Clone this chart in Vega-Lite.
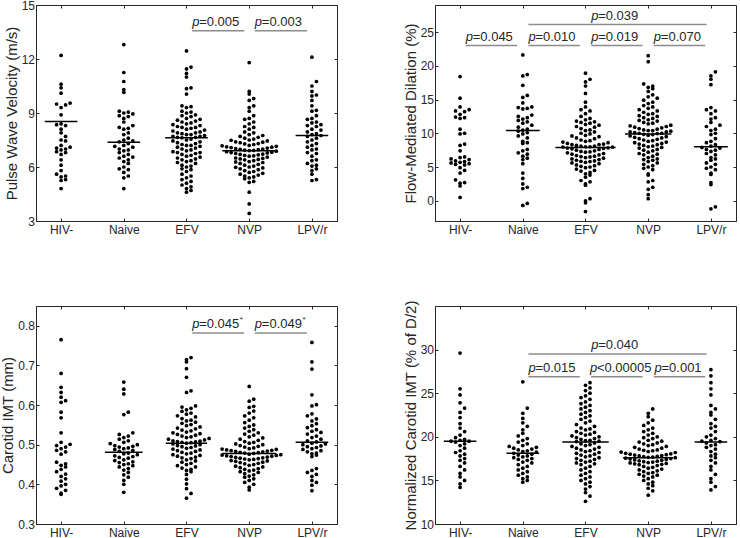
{
"$schema": "https://vega.github.io/schema/vega-lite/v6.json",
"padding": {"left": 0, "top": -2, "right": 0, "bottom": 0},
"bounds": "flush",
"columns": 2,
"spacing": {"row": 85, "column": 98},
"datasets": {
"pwv": [
{"g":"HIV-","v":12.2},{"g":"HIV-","v":10.6},{"g":"HIV-","v":10.4},{"g":"HIV-","v":10.1},{"g":"HIV-","v":9.55},{"g":"HIV-","v":9.5},{"g":"HIV-","v":9.45},{"g":"HIV-","v":9.3},{"g":"HIV-","v":8.9},{"g":"HIV-","v":8.4},{"g":"HIV-","v":8.35},{"g":"HIV-","v":8.3},{"g":"HIV-","v":8.1},{"g":"HIV-","v":7.9},{"g":"HIV-","v":7.7},{"g":"HIV-","v":7.5},{"g":"HIV-","v":7.45},{"g":"HIV-","v":7.2},{"g":"HIV-","v":7.1},{"g":"HIV-","v":7.05},{"g":"HIV-","v":7.0},{"g":"HIV-","v":6.95},{"g":"HIV-","v":6.85},{"g":"HIV-","v":6.8},{"g":"HIV-","v":6.7},{"g":"HIV-","v":6.4},{"g":"HIV-","v":6.1},{"g":"HIV-","v":5.8},{"g":"HIV-","v":5.6},{"g":"HIV-","v":5.5},{"g":"HIV-","v":5.45},{"g":"HIV-","v":5.3},{"g":"HIV-","v":5.25},{"g":"HIV-","v":4.8},
{"g":"Naive","v":12.8},{"g":"Naive","v":11.25},{"g":"Naive","v":10.75},{"g":"Naive","v":10.3},{"g":"Naive","v":10.15},{"g":"Naive","v":9.1},{"g":"Naive","v":9.05},{"g":"Naive","v":9.0},{"g":"Naive","v":8.95},{"g":"Naive","v":8.85},{"g":"Naive","v":8.8},{"g":"Naive","v":8.7},{"g":"Naive","v":8.5},{"g":"Naive","v":8.3},{"g":"Naive","v":8.2},{"g":"Naive","v":8.15},{"g":"Naive","v":8.1},{"g":"Naive","v":7.9},{"g":"Naive","v":7.8},{"g":"Naive","v":7.6},{"g":"Naive","v":7.5},{"g":"Naive","v":7.45},{"g":"Naive","v":7.4},{"g":"Naive","v":7.3},{"g":"Naive","v":7.2},{"g":"Naive","v":7.15},{"g":"Naive","v":7.1},{"g":"Naive","v":7.0},{"g":"Naive","v":6.95},{"g":"Naive","v":6.9},{"g":"Naive","v":6.8},{"g":"Naive","v":6.7},{"g":"Naive","v":6.6},{"g":"Naive","v":6.55},{"g":"Naive","v":6.5},{"g":"Naive","v":6.4},{"g":"Naive","v":6.3},{"g":"Naive","v":6.2},{"g":"Naive","v":6.0},{"g":"Naive","v":5.9},{"g":"Naive","v":5.85},{"g":"Naive","v":5.7},{"g":"Naive","v":5.5},{"g":"Naive","v":5.4},{"g":"Naive","v":4.8},
{"g":"EFV","v":12.45},{"g":"EFV","v":11.55},{"g":"EFV","v":11.45},{"g":"EFV","v":11.2},{"g":"EFV","v":11.0},{"g":"EFV","v":10.4},{"g":"EFV","v":10.35},{"g":"EFV","v":10.05},{"g":"EFV","v":9.4},{"g":"EFV","v":9.35},{"g":"EFV","v":9.3},{"g":"EFV","v":9.1},{"g":"EFV","v":9.05},{"g":"EFV","v":9.0},{"g":"EFV","v":8.9},{"g":"EFV","v":8.85},{"g":"EFV","v":8.8},{"g":"EFV","v":8.7},{"g":"EFV","v":8.65},{"g":"EFV","v":8.6},{"g":"EFV","v":8.55},{"g":"EFV","v":8.5},{"g":"EFV","v":8.45},{"g":"EFV","v":8.4},{"g":"EFV","v":8.35},{"g":"EFV","v":8.3},{"g":"EFV","v":8.25},{"g":"EFV","v":8.2},{"g":"EFV","v":8.2},{"g":"EFV","v":8.15},{"g":"EFV","v":8.1},{"g":"EFV","v":8.05},{"g":"EFV","v":8.0},{"g":"EFV","v":7.95},{"g":"EFV","v":7.9},{"g":"EFV","v":7.9},{"g":"EFV","v":7.85},{"g":"EFV","v":7.8},{"g":"EFV","v":7.8},{"g":"EFV","v":7.75},{"g":"EFV","v":7.7},{"g":"EFV","v":7.7},{"g":"EFV","v":7.65},{"g":"EFV","v":7.65},{"g":"EFV","v":7.62},
{"g":"EFV","v":7.55},{"g":"EFV","v":7.5},{"g":"EFV","v":7.45},{"g":"EFV","v":7.4},{"g":"EFV","v":7.35},{"g":"EFV","v":7.3},{"g":"EFV","v":7.25},{"g":"EFV","v":7.2},{"g":"EFV","v":7.2},{"g":"EFV","v":7.15},{"g":"EFV","v":7.1},{"g":"EFV","v":7.05},{"g":"EFV","v":7.0},{"g":"EFV","v":6.95},{"g":"EFV","v":6.9},{"g":"EFV","v":6.85},{"g":"EFV","v":6.8},{"g":"EFV","v":6.8},{"g":"EFV","v":6.75},{"g":"EFV","v":6.7},{"g":"EFV","v":6.65},{"g":"EFV","v":6.6},{"g":"EFV","v":6.55},{"g":"EFV","v":6.5},{"g":"EFV","v":6.45},{"g":"EFV","v":6.4},{"g":"EFV","v":6.35},{"g":"EFV","v":6.3},{"g":"EFV","v":6.25},{"g":"EFV","v":6.2},{"g":"EFV","v":6.1},{"g":"EFV","v":6.05},{"g":"EFV","v":6.0},{"g":"EFV","v":5.9},{"g":"EFV","v":5.85},{"g":"EFV","v":5.75},{"g":"EFV","v":5.6},{"g":"EFV","v":5.5},{"g":"EFV","v":5.4},{"g":"EFV","v":5.3},{"g":"EFV","v":5.2},{"g":"EFV","v":5.1},{"g":"EFV","v":5.0},{"g":"EFV","v":4.9},{"g":"EFV","v":4.8},{"g":"EFV","v":4.7},{"g":"EFV","v":4.6},
{"g":"NVP","v":11.8},{"g":"NVP","v":10.2},{"g":"NVP","v":10.05},{"g":"NVP","v":9.8},{"g":"NVP","v":9.7},{"g":"NVP","v":9.4},{"g":"NVP","v":9.3},{"g":"NVP","v":9.1},{"g":"NVP","v":8.85},{"g":"NVP","v":8.7},{"g":"NVP","v":8.65},{"g":"NVP","v":8.5},{"g":"NVP","v":8.4},{"g":"NVP","v":8.25},{"g":"NVP","v":8.2},{"g":"NVP","v":8.1},{"g":"NVP","v":7.95},{"g":"NVP","v":7.9},{"g":"NVP","v":7.8},{"g":"NVP","v":7.75},{"g":"NVP","v":7.7},{"g":"NVP","v":7.65},{"g":"NVP","v":7.6},{"g":"NVP","v":7.55},{"g":"NVP","v":7.5},{"g":"NVP","v":7.48},{"g":"NVP","v":7.45},{"g":"NVP","v":7.4},{"g":"NVP","v":7.38},{"g":"NVP","v":7.35},{"g":"NVP","v":7.3},{"g":"NVP","v":7.28},{"g":"NVP","v":7.25},{"g":"NVP","v":7.2},{"g":"NVP","v":7.18},{"g":"NVP","v":7.15},{"g":"NVP","v":7.12},{"g":"NVP","v":7.1},{"g":"NVP","v":7.08},{"g":"NVP","v":7.05},{"g":"NVP","v":7.02},{"g":"NVP","v":7.0},{"g":"NVP","v":6.98},{"g":"NVP","v":6.96},{"g":"NVP","v":6.94},{"g":"NVP","v":6.92},{"g":"NVP","v":6.91},
{"g":"NVP","v":6.88},{"g":"NVP","v":6.85},{"g":"NVP","v":6.82},{"g":"NVP","v":6.8},{"g":"NVP","v":6.78},{"g":"NVP","v":6.75},{"g":"NVP","v":6.72},{"g":"NVP","v":6.7},{"g":"NVP","v":6.68},{"g":"NVP","v":6.65},{"g":"NVP","v":6.62},{"g":"NVP","v":6.6},{"g":"NVP","v":6.55},{"g":"NVP","v":6.5},{"g":"NVP","v":6.48},{"g":"NVP","v":6.45},{"g":"NVP","v":6.42},{"g":"NVP","v":6.4},{"g":"NVP","v":6.35},{"g":"NVP","v":6.3},{"g":"NVP","v":6.28},{"g":"NVP","v":6.25},{"g":"NVP","v":6.2},{"g":"NVP","v":6.15},{"g":"NVP","v":6.1},{"g":"NVP","v":6.05},{"g":"NVP","v":6.0},{"g":"NVP","v":5.98},{"g":"NVP","v":5.95},{"g":"NVP","v":5.9},{"g":"NVP","v":5.85},{"g":"NVP","v":5.8},{"g":"NVP","v":5.75},{"g":"NVP","v":5.7},{"g":"NVP","v":5.65},{"g":"NVP","v":5.6},{"g":"NVP","v":5.55},{"g":"NVP","v":5.5},{"g":"NVP","v":5.45},{"g":"NVP","v":5.4},{"g":"NVP","v":5.35},{"g":"NVP","v":5.2},{"g":"NVP","v":5.15},{"g":"NVP","v":4.6},{"g":"NVP","v":3.95},{"g":"NVP","v":3.42},
{"g":"LPV/r","v":12.1},{"g":"LPV/r","v":10.75},{"g":"LPV/r","v":10.5},{"g":"LPV/r","v":10.2},{"g":"LPV/r","v":10.0},{"g":"LPV/r","v":9.95},{"g":"LPV/r","v":9.7},{"g":"LPV/r","v":9.4},{"g":"LPV/r","v":9.15},{"g":"LPV/r","v":9.1},{"g":"LPV/r","v":8.85},{"g":"LPV/r","v":8.7},{"g":"LPV/r","v":8.65},{"g":"LPV/r","v":8.5},{"g":"LPV/r","v":8.45},{"g":"LPV/r","v":8.35},{"g":"LPV/r","v":8.3},{"g":"LPV/r","v":8.25},{"g":"LPV/r","v":8.1},{"g":"LPV/r","v":8.05},{"g":"LPV/r","v":7.95},{"g":"LPV/r","v":7.85},{"g":"LPV/r","v":7.8},{"g":"LPV/r","v":7.75},{"g":"LPV/r","v":7.7},{"g":"LPV/r","v":7.6},{"g":"LPV/r","v":7.5},{"g":"LPV/r","v":7.4},{"g":"LPV/r","v":7.3},{"g":"LPV/r","v":7.2},{"g":"LPV/r","v":7.1},{"g":"LPV/r","v":7.0},{"g":"LPV/r","v":6.95},{"g":"LPV/r","v":6.8},{"g":"LPV/r","v":6.75},{"g":"LPV/r","v":6.6},{"g":"LPV/r","v":6.4},{"g":"LPV/r","v":6.35},{"g":"LPV/r","v":6.2},{"g":"LPV/r","v":6.1},{"g":"LPV/r","v":6.05},{"g":"LPV/r","v":5.9},{"g":"LPV/r","v":5.8},{"g":"LPV/r","v":5.6},{"g":"LPV/r","v":5.3},{"g":"LPV/r","v":5.25}
],
"fmd": [
{"g":"HIV-","v":18.4},{"g":"HIV-","v":15.2},{"g":"HIV-","v":13.9},{"g":"HIV-","v":13.5},{"g":"HIV-","v":13.3},{"g":"HIV-","v":13.2},{"g":"HIV-","v":12.8},{"g":"HIV-","v":12.4},{"g":"HIV-","v":12.3},{"g":"HIV-","v":12.2},{"g":"HIV-","v":10.6},{"g":"HIV-","v":10.0},{"g":"HIV-","v":9.9},{"g":"HIV-","v":8.4},{"g":"HIV-","v":8.2},{"g":"HIV-","v":7.4},{"g":"HIV-","v":6.5},{"g":"HIV-","v":6.4},{"g":"HIV-","v":6.2},{"g":"HIV-","v":6.1},{"g":"HIV-","v":5.9},{"g":"HIV-","v":5.8},{"g":"HIV-","v":5.7},{"g":"HIV-","v":5.6},{"g":"HIV-","v":5.5},{"g":"HIV-","v":5.4},{"g":"HIV-","v":5.3},{"g":"HIV-","v":4.9},{"g":"HIV-","v":4.5},{"g":"HIV-","v":4.1},{"g":"HIV-","v":3.1},{"g":"HIV-","v":2.7},{"g":"HIV-","v":2.6},{"g":"HIV-","v":2.2},{"g":"HIV-","v":0.5},
{"g":"Naive","v":21.6},{"g":"Naive","v":18.7},{"g":"Naive","v":18.5},{"g":"Naive","v":17.1},{"g":"Naive","v":15.6},{"g":"Naive","v":15.3},{"g":"Naive","v":14.5},{"g":"Naive","v":13.9},{"g":"Naive","v":13.8},{"g":"Naive","v":13.7},{"g":"Naive","v":13.6},{"g":"Naive","v":12.7},{"g":"Naive","v":12.5},{"g":"Naive","v":12.3},{"g":"Naive","v":12.1},{"g":"Naive","v":11.9},{"g":"Naive","v":11.7},{"g":"Naive","v":11.5},{"g":"Naive","v":11.2},{"g":"Naive","v":10.9},{"g":"Naive","v":10.6},{"g":"Naive","v":10.45},{"g":"Naive","v":10.3},{"g":"Naive","v":10.1},{"g":"Naive","v":9.9},{"g":"Naive","v":9.6},{"g":"Naive","v":9.3},{"g":"Naive","v":8.8},{"g":"Naive","v":8.6},{"g":"Naive","v":8.5},{"g":"Naive","v":7.6},{"g":"Naive","v":7.4},{"g":"Naive","v":7.1},{"g":"Naive","v":6.9},{"g":"Naive","v":6.6},{"g":"Naive","v":6.3},{"g":"Naive","v":6.1},{"g":"Naive","v":5.5},{"g":"Naive","v":4.1},{"g":"Naive","v":3.3},{"g":"Naive","v":2.5},{"g":"Naive","v":2.0},{"g":"Naive","v":1.8},{"g":"Naive","v":-0.4},{"g":"Naive","v":-0.7},
{"g":"EFV","v":18.9},{"g":"EFV","v":18.0},{"g":"EFV","v":17.6},{"g":"EFV","v":17.0},{"g":"EFV","v":15.9},{"g":"EFV","v":14.6},{"g":"EFV","v":13.9},{"g":"EFV","v":13.5},{"g":"EFV","v":13.3},{"g":"EFV","v":12.9},{"g":"EFV","v":12.5},{"g":"EFV","v":12.2},{"g":"EFV","v":12.0},{"g":"EFV","v":11.8},{"g":"EFV","v":11.7},{"g":"EFV","v":11.6},{"g":"EFV","v":11.5},{"g":"EFV","v":11.3},{"g":"EFV","v":11.2},{"g":"EFV","v":11.0},{"g":"EFV","v":10.9},{"g":"EFV","v":10.7},{"g":"EFV","v":10.5},{"g":"EFV","v":10.4},{"g":"EFV","v":10.2},{"g":"EFV","v":10.0},{"g":"EFV","v":9.9},{"g":"EFV","v":9.7},{"g":"EFV","v":9.6},{"g":"EFV","v":9.5},{"g":"EFV","v":9.3},{"g":"EFV","v":9.2},{"g":"EFV","v":9.0},{"g":"EFV","v":8.9},{"g":"EFV","v":8.8},{"g":"EFV","v":8.7},{"g":"EFV","v":8.6},{"g":"EFV","v":8.5},{"g":"EFV","v":8.4},{"g":"EFV","v":8.3},{"g":"EFV","v":8.3},{"g":"EFV","v":8.2},{"g":"EFV","v":8.1},{"g":"EFV","v":8.1},{"g":"EFV","v":8.0},{"g":"EFV","v":8.0},{"g":"EFV","v":7.95},{"g":"EFV","v":7.95},
{"g":"EFV","v":7.85},{"g":"EFV","v":7.8},{"g":"EFV","v":7.75},{"g":"EFV","v":7.7},{"g":"EFV","v":7.6},{"g":"EFV","v":7.5},{"g":"EFV","v":7.4},{"g":"EFV","v":7.3},{"g":"EFV","v":7.25},{"g":"EFV","v":7.2},{"g":"EFV","v":7.1},{"g":"EFV","v":7.0},{"g":"EFV","v":6.9},{"g":"EFV","v":6.8},{"g":"EFV","v":6.7},{"g":"EFV","v":6.6},{"g":"EFV","v":6.55},{"g":"EFV","v":6.5},{"g":"EFV","v":6.4},{"g":"EFV","v":6.3},{"g":"EFV","v":6.2},{"g":"EFV","v":6.1},{"g":"EFV","v":6.0},{"g":"EFV","v":5.9},{"g":"EFV","v":5.85},{"g":"EFV","v":5.8},{"g":"EFV","v":5.7},{"g":"EFV","v":5.6},{"g":"EFV","v":5.5},{"g":"EFV","v":5.3},{"g":"EFV","v":5.2},{"g":"EFV","v":5.1},{"g":"EFV","v":5.0},{"g":"EFV","v":4.9},{"g":"EFV","v":4.7},{"g":"EFV","v":4.5},{"g":"EFV","v":4.4},{"g":"EFV","v":4.2},{"g":"EFV","v":4.0},{"g":"EFV","v":3.8},{"g":"EFV","v":3.5},{"g":"EFV","v":3.0},{"g":"EFV","v":2.8},{"g":"EFV","v":2.5},{"g":"EFV","v":2.3},{"g":"EFV","v":0.3},{"g":"EFV","v":0.0},{"g":"EFV","v":-0.3},{"g":"EFV","v":-1.6},
{"g":"NVP","v":21.5},{"g":"NVP","v":20.6},{"g":"NVP","v":17.3},{"g":"NVP","v":17.0},{"g":"NVP","v":16.8},{"g":"NVP","v":16.6},{"g":"NVP","v":16.2},{"g":"NVP","v":15.7},{"g":"NVP","v":15.4},{"g":"NVP","v":15.2},{"g":"NVP","v":14.9},{"g":"NVP","v":14.6},{"g":"NVP","v":14.4},{"g":"NVP","v":14.1},{"g":"NVP","v":13.9},{"g":"NVP","v":13.7},{"g":"NVP","v":13.5},{"g":"NVP","v":13.3},{"g":"NVP","v":13.1},{"g":"NVP","v":12.9},{"g":"NVP","v":12.8},{"g":"NVP","v":12.6},{"g":"NVP","v":12.5},{"g":"NVP","v":12.3},{"g":"NVP","v":12.2},{"g":"NVP","v":12.0},{"g":"NVP","v":11.9},{"g":"NVP","v":11.8},{"g":"NVP","v":11.6},{"g":"NVP","v":11.5},{"g":"NVP","v":11.4},{"g":"NVP","v":11.2},{"g":"NVP","v":11.1},{"g":"NVP","v":11.0},{"g":"NVP","v":10.9},{"g":"NVP","v":10.8},{"g":"NVP","v":10.7},{"g":"NVP","v":10.6},{"g":"NVP","v":10.5},{"g":"NVP","v":10.4},{"g":"NVP","v":10.4},{"g":"NVP","v":10.3},{"g":"NVP","v":10.2},{"g":"NVP","v":10.2},{"g":"NVP","v":10.1},{"g":"NVP","v":10.0},{"g":"NVP","v":10.0},{"g":"NVP","v":9.95},
{"g":"NVP","v":9.85},{"g":"NVP","v":9.8},{"g":"NVP","v":9.7},{"g":"NVP","v":9.6},{"g":"NVP","v":9.5},{"g":"NVP","v":9.4},{"g":"NVP","v":9.3},{"g":"NVP","v":9.2},{"g":"NVP","v":9.1},{"g":"NVP","v":9.0},{"g":"NVP","v":8.9},{"g":"NVP","v":8.8},{"g":"NVP","v":8.7},{"g":"NVP","v":8.6},{"g":"NVP","v":8.5},{"g":"NVP","v":8.4},{"g":"NVP","v":8.3},{"g":"NVP","v":8.2},{"g":"NVP","v":8.1},{"g":"NVP","v":8.0},{"g":"NVP","v":7.9},{"g":"NVP","v":7.8},{"g":"NVP","v":7.6},{"g":"NVP","v":7.5},{"g":"NVP","v":7.4},{"g":"NVP","v":7.2},{"g":"NVP","v":7.0},{"g":"NVP","v":6.9},{"g":"NVP","v":6.8},{"g":"NVP","v":6.6},{"g":"NVP","v":6.4},{"g":"NVP","v":6.2},{"g":"NVP","v":6.1},{"g":"NVP","v":6.0},{"g":"NVP","v":5.8},{"g":"NVP","v":5.6},{"g":"NVP","v":5.4},{"g":"NVP","v":5.2},{"g":"NVP","v":5.0},{"g":"NVP","v":4.8},{"g":"NVP","v":4.6},{"g":"NVP","v":4.0},{"g":"NVP","v":3.8},{"g":"NVP","v":3.0},{"g":"NVP","v":2.8},{"g":"NVP","v":2.0},{"g":"NVP","v":1.7},{"g":"NVP","v":0.9},{"g":"NVP","v":0.3},
{"g":"LPV/r","v":19.1},{"g":"LPV/r","v":18.5},{"g":"LPV/r","v":18.0},{"g":"LPV/r","v":17.2},{"g":"LPV/r","v":13.8},{"g":"LPV/r","v":13.5},{"g":"LPV/r","v":13.3},{"g":"LPV/r","v":12.9},{"g":"LPV/r","v":12.3},{"g":"LPV/r","v":12.1},{"g":"LPV/r","v":11.6},{"g":"LPV/r","v":11.2},{"g":"LPV/r","v":11.0},{"g":"LPV/r","v":10.6},{"g":"LPV/r","v":10.4},{"g":"LPV/r","v":10.0},{"g":"LPV/r","v":9.8},{"g":"LPV/r","v":9.2},{"g":"LPV/r","v":8.8},{"g":"LPV/r","v":8.6},{"g":"LPV/r","v":8.3},{"g":"LPV/r","v":8.1},{"g":"LPV/r","v":7.9},{"g":"LPV/r","v":7.8},{"g":"LPV/r","v":7.6},{"g":"LPV/r","v":7.5},{"g":"LPV/r","v":7.3},{"g":"LPV/r","v":7.0},{"g":"LPV/r","v":6.8},{"g":"LPV/r","v":6.4},{"g":"LPV/r","v":6.2},{"g":"LPV/r","v":6.0},{"g":"LPV/r","v":5.6},{"g":"LPV/r","v":5.4},{"g":"LPV/r","v":5.0},{"g":"LPV/r","v":4.8},{"g":"LPV/r","v":4.6},{"g":"LPV/r","v":4.1},{"g":"LPV/r","v":3.9},{"g":"LPV/r","v":2.7},{"g":"LPV/r","v":2.4},{"g":"LPV/r","v":-0.9},{"g":"LPV/r","v":-1.2}
],
"imt": [
{"g":"HIV-","v":0.765},{"g":"HIV-","v":0.68},{"g":"HIV-","v":0.645},{"g":"HIV-","v":0.632},{"g":"HIV-","v":0.62},{"g":"HIV-","v":0.611},{"g":"HIV-","v":0.607},{"g":"HIV-","v":0.582},{"g":"HIV-","v":0.568},{"g":"HIV-","v":0.53},{"g":"HIV-","v":0.506},{"g":"HIV-","v":0.501},{"g":"HIV-","v":0.498},{"g":"HIV-","v":0.494},{"g":"HIV-","v":0.49},{"g":"HIV-","v":0.486},{"g":"HIV-","v":0.482},{"g":"HIV-","v":0.476},{"g":"HIV-","v":0.456},{"g":"HIV-","v":0.452},{"g":"HIV-","v":0.448},{"g":"HIV-","v":0.444},{"g":"HIV-","v":0.438},{"g":"HIV-","v":0.432},{"g":"HIV-","v":0.426},{"g":"HIV-","v":0.42},{"g":"HIV-","v":0.414},{"g":"HIV-","v":0.408},{"g":"HIV-","v":0.4},{"g":"HIV-","v":0.396},{"g":"HIV-","v":0.39},{"g":"HIV-","v":0.385},{"g":"HIV-","v":0.378},{"g":"HIV-","v":0.375},
{"g":"Naive","v":0.658},{"g":"Naive","v":0.64},{"g":"Naive","v":0.628},{"g":"Naive","v":0.582},{"g":"Naive","v":0.576},{"g":"Naive","v":0.53},{"g":"Naive","v":0.526},{"g":"Naive","v":0.522},{"g":"Naive","v":0.518},{"g":"Naive","v":0.514},{"g":"Naive","v":0.51},{"g":"Naive","v":0.506},{"g":"Naive","v":0.503},{"g":"Naive","v":0.5},{"g":"Naive","v":0.498},{"g":"Naive","v":0.496},{"g":"Naive","v":0.494},{"g":"Naive","v":0.492},{"g":"Naive","v":0.49},{"g":"Naive","v":0.488},{"g":"Naive","v":0.486},{"g":"Naive","v":0.483},{"g":"Naive","v":0.479},{"g":"Naive","v":0.477},{"g":"Naive","v":0.475},{"g":"Naive","v":0.472},{"g":"Naive","v":0.47},{"g":"Naive","v":0.468},{"g":"Naive","v":0.466},{"g":"Naive","v":0.462},{"g":"Naive","v":0.46},{"g":"Naive","v":0.457},{"g":"Naive","v":0.455},{"g":"Naive","v":0.452},{"g":"Naive","v":0.45},{"g":"Naive","v":0.447},{"g":"Naive","v":0.444},{"g":"Naive","v":0.44},{"g":"Naive","v":0.436},{"g":"Naive","v":0.43},{"g":"Naive","v":0.424},{"g":"Naive","v":0.418},{"g":"Naive","v":0.41},{"g":"Naive","v":0.4},{"g":"Naive","v":0.38},
{"g":"EFV","v":0.72},{"g":"EFV","v":0.715},{"g":"EFV","v":0.709},{"g":"EFV","v":0.692},{"g":"EFV","v":0.67},{"g":"EFV","v":0.636},{"g":"EFV","v":0.632},{"g":"EFV","v":0.598},{"g":"EFV","v":0.595},{"g":"EFV","v":0.592},{"g":"EFV","v":0.588},{"g":"EFV","v":0.584},{"g":"EFV","v":0.58},{"g":"EFV","v":0.577},{"g":"EFV","v":0.573},{"g":"EFV","v":0.57},{"g":"EFV","v":0.566},{"g":"EFV","v":0.562},{"g":"EFV","v":0.56},{"g":"EFV","v":0.557},{"g":"EFV","v":0.554},{"g":"EFV","v":0.551},{"g":"EFV","v":0.548},{"g":"EFV","v":0.545},{"g":"EFV","v":0.542},{"g":"EFV","v":0.54},{"g":"EFV","v":0.537},{"g":"EFV","v":0.535},{"g":"EFV","v":0.532},{"g":"EFV","v":0.53},{"g":"EFV","v":0.528},{"g":"EFV","v":0.526},{"g":"EFV","v":0.524},{"g":"EFV","v":0.522},{"g":"EFV","v":0.52},{"g":"EFV","v":0.518},{"g":"EFV","v":0.516},{"g":"EFV","v":0.514},{"g":"EFV","v":0.512},{"g":"EFV","v":0.51},{"g":"EFV","v":0.509},{"g":"EFV","v":0.508},{"g":"EFV","v":0.507},{"g":"EFV","v":0.506},{"g":"EFV","v":0.505},{"g":"EFV","v":0.504},
{"g":"EFV","v":0.502},{"g":"EFV","v":0.5},{"g":"EFV","v":0.498},{"g":"EFV","v":0.497},{"g":"EFV","v":0.495},{"g":"EFV","v":0.493},{"g":"EFV","v":0.491},{"g":"EFV","v":0.489},{"g":"EFV","v":0.487},{"g":"EFV","v":0.485},{"g":"EFV","v":0.483},{"g":"EFV","v":0.481},{"g":"EFV","v":0.479},{"g":"EFV","v":0.477},{"g":"EFV","v":0.475},{"g":"EFV","v":0.473},{"g":"EFV","v":0.471},{"g":"EFV","v":0.469},{"g":"EFV","v":0.467},{"g":"EFV","v":0.465},{"g":"EFV","v":0.462},{"g":"EFV","v":0.459},{"g":"EFV","v":0.456},{"g":"EFV","v":0.453},{"g":"EFV","v":0.45},{"g":"EFV","v":0.447},{"g":"EFV","v":0.444},{"g":"EFV","v":0.441},{"g":"EFV","v":0.438},{"g":"EFV","v":0.435},{"g":"EFV","v":0.432},{"g":"EFV","v":0.425},{"g":"EFV","v":0.413},{"g":"EFV","v":0.401},{"g":"EFV","v":0.389},{"g":"EFV","v":0.377},{"g":"EFV","v":0.365},
{"g":"NVP","v":0.647},{"g":"NVP","v":0.615},{"g":"NVP","v":0.61},{"g":"NVP","v":0.597},{"g":"NVP","v":0.594},{"g":"NVP","v":0.585},{"g":"NVP","v":0.58},{"g":"NVP","v":0.573},{"g":"NVP","v":0.568},{"g":"NVP","v":0.562},{"g":"NVP","v":0.556},{"g":"NVP","v":0.55},{"g":"NVP","v":0.546},{"g":"NVP","v":0.542},{"g":"NVP","v":0.538},{"g":"NVP","v":0.534},{"g":"NVP","v":0.53},{"g":"NVP","v":0.527},{"g":"NVP","v":0.524},{"g":"NVP","v":0.52},{"g":"NVP","v":0.517},{"g":"NVP","v":0.514},{"g":"NVP","v":0.511},{"g":"NVP","v":0.508},{"g":"NVP","v":0.506},{"g":"NVP","v":0.504},{"g":"NVP","v":0.502},{"g":"NVP","v":0.5},{"g":"NVP","v":0.498},{"g":"NVP","v":0.496},{"g":"NVP","v":0.494},{"g":"NVP","v":0.492},{"g":"NVP","v":0.49},{"g":"NVP","v":0.489},{"g":"NVP","v":0.488},{"g":"NVP","v":0.487},{"g":"NVP","v":0.486},{"g":"NVP","v":0.485},{"g":"NVP","v":0.484},{"g":"NVP","v":0.483},{"g":"NVP","v":0.482},{"g":"NVP","v":0.481},{"g":"NVP","v":0.48},{"g":"NVP","v":0.479},{"g":"NVP","v":0.478},
{"g":"NVP","v":0.476},{"g":"NVP","v":0.475},{"g":"NVP","v":0.474},{"g":"NVP","v":0.473},{"g":"NVP","v":0.472},{"g":"NVP","v":0.471},{"g":"NVP","v":0.47},{"g":"NVP","v":0.469},{"g":"NVP","v":0.468},{"g":"NVP","v":0.467},{"g":"NVP","v":0.466},{"g":"NVP","v":0.465},{"g":"NVP","v":0.464},{"g":"NVP","v":0.463},{"g":"NVP","v":0.462},{"g":"NVP","v":0.46},{"g":"NVP","v":0.459},{"g":"NVP","v":0.458},{"g":"NVP","v":0.456},{"g":"NVP","v":0.455},{"g":"NVP","v":0.453},{"g":"NVP","v":0.452},{"g":"NVP","v":0.45},{"g":"NVP","v":0.448},{"g":"NVP","v":0.446},{"g":"NVP","v":0.444},{"g":"NVP","v":0.442},{"g":"NVP","v":0.44},{"g":"NVP","v":0.438},{"g":"NVP","v":0.436},{"g":"NVP","v":0.434},{"g":"NVP","v":0.432},{"g":"NVP","v":0.43},{"g":"NVP","v":0.427},{"g":"NVP","v":0.424},{"g":"NVP","v":0.421},{"g":"NVP","v":0.418},{"g":"NVP","v":0.414},{"g":"NVP","v":0.41},{"g":"NVP","v":0.405},{"g":"NVP","v":0.4},{"g":"NVP","v":0.393},{"g":"NVP","v":0.386},
{"g":"LPV/r","v":0.758},{"g":"LPV/r","v":0.709},{"g":"LPV/r","v":0.691},{"g":"LPV/r","v":0.626},{"g":"LPV/r","v":0.601},{"g":"LPV/r","v":0.598},{"g":"LPV/r","v":0.578},{"g":"LPV/r","v":0.573},{"g":"LPV/r","v":0.565},{"g":"LPV/r","v":0.56},{"g":"LPV/r","v":0.553},{"g":"LPV/r","v":0.548},{"g":"LPV/r","v":0.543},{"g":"LPV/r","v":0.538},{"g":"LPV/r","v":0.534},{"g":"LPV/r","v":0.531},{"g":"LPV/r","v":0.527},{"g":"LPV/r","v":0.522},{"g":"LPV/r","v":0.518},{"g":"LPV/r","v":0.514},{"g":"LPV/r","v":0.51},{"g":"LPV/r","v":0.507},{"g":"LPV/r","v":0.504},{"g":"LPV/r","v":0.502},{"g":"LPV/r","v":0.5},{"g":"LPV/r","v":0.497},{"g":"LPV/r","v":0.495},{"g":"LPV/r","v":0.493},{"g":"LPV/r","v":0.49},{"g":"LPV/r","v":0.488},{"g":"LPV/r","v":0.485},{"g":"LPV/r","v":0.482},{"g":"LPV/r","v":0.479},{"g":"LPV/r","v":0.477},{"g":"LPV/r","v":0.474},{"g":"LPV/r","v":0.47},{"g":"LPV/r","v":0.44},{"g":"LPV/r","v":0.435},{"g":"LPV/r","v":0.43},{"g":"LPV/r","v":0.425},{"g":"LPV/r","v":0.42},{"g":"LPV/r","v":0.41},{"g":"LPV/r","v":0.405},{"g":"LPV/r","v":0.398},{"g":"LPV/r","v":0.384}
],
"nimt": [
{"g":"HIV-","v":29.6},{"g":"HIV-","v":25.5},{"g":"HIV-","v":24.8},{"g":"HIV-","v":23.9},{"g":"HIV-","v":23.3},{"g":"HIV-","v":22.8},{"g":"HIV-","v":22.2},{"g":"HIV-","v":21.5},{"g":"HIV-","v":21.0},{"g":"HIV-","v":20.6},{"g":"HIV-","v":20.2},{"g":"HIV-","v":19.9},{"g":"HIV-","v":19.7},{"g":"HIV-","v":19.6},{"g":"HIV-","v":19.5},{"g":"HIV-","v":19.5},{"g":"HIV-","v":19.4},{"g":"HIV-","v":19.2},{"g":"HIV-","v":19.0},{"g":"HIV-","v":18.7},{"g":"HIV-","v":18.4},{"g":"HIV-","v":18.2},{"g":"HIV-","v":18.0},{"g":"HIV-","v":17.8},{"g":"HIV-","v":17.5},{"g":"HIV-","v":17.3},{"g":"HIV-","v":17.0},{"g":"HIV-","v":16.6},{"g":"HIV-","v":16.2},{"g":"HIV-","v":15.8},{"g":"HIV-","v":15.4},{"g":"HIV-","v":15.0},{"g":"HIV-","v":14.6},{"g":"HIV-","v":14.2},
{"g":"Naive","v":26.3},{"g":"Naive","v":23.3},{"g":"Naive","v":22.7},{"g":"Naive","v":22.1},{"g":"Naive","v":21.6},{"g":"Naive","v":21.2},{"g":"Naive","v":20.8},{"g":"Naive","v":20.4},{"g":"Naive","v":20.1},{"g":"Naive","v":19.8},{"g":"Naive","v":19.6},{"g":"Naive","v":19.4},{"g":"Naive","v":19.2},{"g":"Naive","v":19.0},{"g":"Naive","v":18.9},{"g":"Naive","v":18.8},{"g":"Naive","v":18.7},{"g":"Naive","v":18.6},{"g":"Naive","v":18.5},{"g":"Naive","v":18.4},{"g":"Naive","v":18.3},{"g":"Naive","v":18.25},{"g":"Naive","v":18.1},{"g":"Naive","v":18.0},{"g":"Naive","v":17.9},{"g":"Naive","v":17.8},{"g":"Naive","v":17.7},{"g":"Naive","v":17.6},{"g":"Naive","v":17.5},{"g":"Naive","v":17.4},{"g":"Naive","v":17.3},{"g":"Naive","v":17.1},{"g":"Naive","v":17.0},{"g":"Naive","v":16.8},{"g":"Naive","v":16.6},{"g":"Naive","v":16.4},{"g":"Naive","v":16.2},{"g":"Naive","v":16.0},{"g":"Naive","v":15.8},{"g":"Naive","v":15.6},{"g":"Naive","v":15.4},{"g":"Naive","v":15.2},{"g":"Naive","v":15.0},{"g":"Naive","v":14.8},
{"g":"EFV","v":26.2},{"g":"EFV","v":25.9},{"g":"EFV","v":25.6},{"g":"EFV","v":25.3},{"g":"EFV","v":25.0},{"g":"EFV","v":24.7},{"g":"EFV","v":24.5},{"g":"EFV","v":24.3},{"g":"EFV","v":24.0},{"g":"EFV","v":23.8},{"g":"EFV","v":23.6},{"g":"EFV","v":23.4},{"g":"EFV","v":23.2},{"g":"EFV","v":23.0},{"g":"EFV","v":22.8},{"g":"EFV","v":22.6},{"g":"EFV","v":22.4},{"g":"EFV","v":22.2},{"g":"EFV","v":22.0},{"g":"EFV","v":21.8},{"g":"EFV","v":21.6},{"g":"EFV","v":21.4},{"g":"EFV","v":21.2},{"g":"EFV","v":21.0},{"g":"EFV","v":20.9},{"g":"EFV","v":20.8},{"g":"EFV","v":20.6},{"g":"EFV","v":20.5},{"g":"EFV","v":20.4},{"g":"EFV","v":20.3},{"g":"EFV","v":20.2},{"g":"EFV","v":20.1},{"g":"EFV","v":20.0},{"g":"EFV","v":19.9},{"g":"EFV","v":19.8},{"g":"EFV","v":19.7},{"g":"EFV","v":19.6},{"g":"EFV","v":19.55},{"g":"EFV","v":19.5},{"g":"EFV","v":19.45},
{"g":"EFV","v":19.3},{"g":"EFV","v":19.2},{"g":"EFV","v":19.1},{"g":"EFV","v":19.0},{"g":"EFV","v":18.9},{"g":"EFV","v":18.8},{"g":"EFV","v":18.7},{"g":"EFV","v":18.6},{"g":"EFV","v":18.5},{"g":"EFV","v":18.4},{"g":"EFV","v":18.3},{"g":"EFV","v":18.2},{"g":"EFV","v":18.1},{"g":"EFV","v":18.0},{"g":"EFV","v":17.9},{"g":"EFV","v":17.8},{"g":"EFV","v":17.7},{"g":"EFV","v":17.6},{"g":"EFV","v":17.5},{"g":"EFV","v":17.4},{"g":"EFV","v":17.3},{"g":"EFV","v":17.2},{"g":"EFV","v":17.1},{"g":"EFV","v":17.0},{"g":"EFV","v":16.9},{"g":"EFV","v":16.8},{"g":"EFV","v":16.6},{"g":"EFV","v":16.4},{"g":"EFV","v":16.2},{"g":"EFV","v":16.0},{"g":"EFV","v":15.8},{"g":"EFV","v":15.6},{"g":"EFV","v":15.4},{"g":"EFV","v":15.2},{"g":"EFV","v":15.0},{"g":"EFV","v":14.8},{"g":"EFV","v":14.6},{"g":"EFV","v":14.3},{"g":"EFV","v":14.0},{"g":"EFV","v":13.6},{"g":"EFV","v":13.2},{"g":"EFV","v":12.6},
{"g":"NVP","v":23.2},{"g":"NVP","v":22.7},{"g":"NVP","v":22.3},{"g":"NVP","v":21.9},{"g":"NVP","v":21.6},{"g":"NVP","v":21.3},{"g":"NVP","v":21.0},{"g":"NVP","v":20.8},{"g":"NVP","v":20.6},{"g":"NVP","v":20.4},{"g":"NVP","v":20.2},{"g":"NVP","v":20.0},{"g":"NVP","v":19.9},{"g":"NVP","v":19.8},{"g":"NVP","v":19.6},{"g":"NVP","v":19.5},{"g":"NVP","v":19.4},{"g":"NVP","v":19.3},{"g":"NVP","v":19.2},{"g":"NVP","v":19.1},{"g":"NVP","v":19.0},{"g":"NVP","v":18.9},{"g":"NVP","v":18.8},{"g":"NVP","v":18.7},{"g":"NVP","v":18.6},{"g":"NVP","v":18.5},{"g":"NVP","v":18.45},{"g":"NVP","v":18.4},{"g":"NVP","v":18.3},{"g":"NVP","v":18.25},{"g":"NVP","v":18.2},{"g":"NVP","v":18.1},{"g":"NVP","v":18.05},{"g":"NVP","v":18.0},{"g":"NVP","v":17.95},{"g":"NVP","v":17.9},{"g":"NVP","v":17.85},{"g":"NVP","v":17.8},{"g":"NVP","v":17.75},{"g":"NVP","v":17.72},
{"g":"NVP","v":17.68},{"g":"NVP","v":17.65},{"g":"NVP","v":17.6},{"g":"NVP","v":17.55},{"g":"NVP","v":17.5},{"g":"NVP","v":17.45},{"g":"NVP","v":17.4},{"g":"NVP","v":17.35},{"g":"NVP","v":17.3},{"g":"NVP","v":17.25},{"g":"NVP","v":17.2},{"g":"NVP","v":17.15},{"g":"NVP","v":17.1},{"g":"NVP","v":17.05},{"g":"NVP","v":17.0},{"g":"NVP","v":16.95},{"g":"NVP","v":16.9},{"g":"NVP","v":16.85},{"g":"NVP","v":16.8},{"g":"NVP","v":16.7},{"g":"NVP","v":16.6},{"g":"NVP","v":16.5},{"g":"NVP","v":16.4},{"g":"NVP","v":16.3},{"g":"NVP","v":16.2},{"g":"NVP","v":16.1},{"g":"NVP","v":16.0},{"g":"NVP","v":15.9},{"g":"NVP","v":15.8},{"g":"NVP","v":15.7},{"g":"NVP","v":15.6},{"g":"NVP","v":15.5},{"g":"NVP","v":15.4},{"g":"NVP","v":15.2},{"g":"NVP","v":15.0},{"g":"NVP","v":14.8},{"g":"NVP","v":14.6},{"g":"NVP","v":14.4},{"g":"NVP","v":14.1},{"g":"NVP","v":13.8},{"g":"NVP","v":13.3},
{"g":"LPV/r","v":27.7},{"g":"LPV/r","v":27.0},{"g":"LPV/r","v":26.2},{"g":"LPV/r","v":25.5},{"g":"LPV/r","v":24.8},{"g":"LPV/r","v":23.6},{"g":"LPV/r","v":23.2},{"g":"LPV/r","v":22.8},{"g":"LPV/r","v":22.5},{"g":"LPV/r","v":22.0},{"g":"LPV/r","v":21.5},{"g":"LPV/r","v":21.2},{"g":"LPV/r","v":21.0},{"g":"LPV/r","v":20.6},{"g":"LPV/r","v":20.2},{"g":"LPV/r","v":20.0},{"g":"LPV/r","v":19.8},{"g":"LPV/r","v":19.6},{"g":"LPV/r","v":19.5},{"g":"LPV/r","v":19.45},{"g":"LPV/r","v":19.3},{"g":"LPV/r","v":19.1},{"g":"LPV/r","v":19.0},{"g":"LPV/r","v":18.8},{"g":"LPV/r","v":18.6},{"g":"LPV/r","v":18.3},{"g":"LPV/r","v":18.0},{"g":"LPV/r","v":17.8},{"g":"LPV/r","v":17.6},{"g":"LPV/r","v":17.3},{"g":"LPV/r","v":17.0},{"g":"LPV/r","v":16.6},{"g":"LPV/r","v":16.2},{"g":"LPV/r","v":15.7},{"g":"LPV/r","v":15.2},{"g":"LPV/r","v":14.8},{"g":"LPV/r","v":14.3},{"g":"LPV/r","v":13.9}
],
"med": [
{"p":"PWV","g":"HIV-","v":8.53},{"p":"PWV","g":"Naive","v":7.38},{"p":"PWV","g":"EFV","v":7.62},{"p":"PWV","g":"NVP","v":6.9},{"p":"PWV","g":"LPV/r","v":7.75},
{"p":"FMD","g":"Naive","v":10.4},{"p":"FMD","g":"EFV","v":7.9},{"p":"FMD","g":"NVP","v":9.9},{"p":"FMD","g":"LPV/r","v":8.0},
{"p":"IMT","g":"Naive","v":0.481},{"p":"IMT","g":"EFV","v":0.504},{"p":"IMT","g":"NVP","v":0.478},{"p":"IMT","g":"LPV/r","v":0.506},
{"p":"NIMT","g":"HIV-","v":19.5},{"p":"NIMT","g":"Naive","v":18.1},{"p":"NIMT","g":"EFV","v":19.4},{"p":"NIMT","g":"NVP","v":17.6},{"p":"NIMT","g":"LPV/r","v":19.4}
],
"br": [
{"p":"PWV","x1":3.09,"x2":3.92,"y":13.57,"tx":3.09,"val":"=0.005","sup":""},
{"p":"PWV","x1":4.09,"x2":4.92,"y":13.57,"tx":4.09,"val":"=0.003","sup":""},
{"p":"FMD","x1":1.09,"x2":1.91,"y":23.0,"tx":1.09,"val":"=0.045","sup":""},
{"p":"FMD","x1":2.09,"x2":2.91,"y":23.0,"tx":2.09,"val":"=0.010","sup":""},
{"p":"FMD","x1":3.09,"x2":3.91,"y":23.0,"tx":3.09,"val":"=0.019","sup":""},
{"p":"FMD","x1":4.09,"x2":4.91,"y":23.0,"tx":4.09,"val":"=0.070","sup":""},
{"p":"FMD","x1":2.09,"x2":4.93,"y":26.1,"tx":3.09,"val":"=0.039","sup":""},
{"p":"IMT","x1":3.09,"x2":3.92,"y":0.782,"tx":3.09,"val":"=0.045","sup":"*"},
{"p":"IMT","x1":4.09,"x2":4.92,"y":0.782,"tx":4.09,"val":"=0.049","sup":"*"},
{"p":"NIMT","x1":2.09,"x2":2.91,"y":26.9,"tx":2.09,"val":"=0.015","sup":""},
{"p":"NIMT","x1":3.09,"x2":3.91,"y":26.9,"tx":3.07,"val":"<0.00005","sup":""},
{"p":"NIMT","x1":4.09,"x2":4.91,"y":26.9,"tx":4.1,"val":"=0.001","sup":""},
{"p":"NIMT","x1":2.09,"x2":4.93,"y":29.5,"tx":3.09,"val":"=0.040","sup":""}
]
},
"concat": [
{"width": 301, "height": 216,
 "resolve": {"axis": {"x": "independent", "y": "independent"}},
 "layer": [
  {"data": {"name": "pwv"},
   "transform": [
    {"calculate": "floor(datum.v/0.3)", "as": "b"},
    {"window": [{"op": "row_number", "as": "rn"}], "groupby": ["g", "b"], "sort": [{"field": "v", "order": "ascending"}]},
    {"calculate": "indexof(['HIV-','Naive','EFV','NVP','LPV/r'], datum.g) + 1 + (datum.rn % 2 == 0 ? 1 : -1) * floor(datum.rn/2) * 0.072", "as": "xp"}
   ],
   "mark": {"type": "circle", "color": "black", "opacity": 1, "size": 14},
   "encoding": {
    "x": {"field": "xp", "type": "quantitative", "scale": {"domain": [0.6, 5.4], "nice": false, "zero": false},
          "axis": {"values": [1,2,3,4,5], "labelExpr": "['HIV-','Naive','EFV','NVP','LPV/r'][datum.value-1]", "title": null}},
    "y": {"field": "v", "type": "quantitative", "scale": {"domain": [3, 15], "nice": false, "zero": false},
          "axis": {"values": [3,6,9,12,15], "title": "Pulse Wave Velocity (m/s)"}}
   }},
  {"data": {"name": "med"},
   "transform": [{"filter": "datum.p=='PWV'"},
    {"calculate": "indexof(['HIV-','Naive','EFV','NVP','LPV/r'], datum.g) + 1", "as": "c"},
    {"calculate": "datum.g=='EFV' ? 0.34 : datum.g=='NVP' ? 0.43 : 0.26", "as": "hw"},
    {"calculate": "datum.c - datum.hw", "as": "xa"}, {"calculate": "datum.c + datum.hw", "as": "xb"}],
   "mark": {"type": "rule", "color": "black", "strokeWidth": 1.5},
   "encoding": {
    "x": {"field": "xa", "type": "quantitative", "axis": {"orient": "top", "values": [1,2,3,4,5], "labels": false, "domain": false, "title": null}},
    "x2": {"field": "xb"},
    "y": {"field": "v", "type": "quantitative", "axis": {"orient": "right", "values": [3,6,9,12,15], "labels": false, "domain": false, "title": null}}
   }},
  {"data": {"name": "br"}, "transform": [{"filter": "datum.p=='PWV'"}],
   "mark": {"type": "rule", "color": "#8c8c8c", "strokeWidth": 1.5},
   "encoding": {"x": {"field": "x1", "type": "quantitative", "axis": null}, "x2": {"field": "x2"}, "y": {"field": "y", "type": "quantitative", "axis": null}}},
  {"data": {"name": "br"}, "transform": [{"filter": "datum.p=='PWV'"}],
   "mark": {"type": "text", "text": "p", "fontStyle": "italic", "fontSize": 13, "align": "left", "baseline": "alphabetic", "dy": -5, "color": "#262626"},
   "encoding": {"x": {"field": "tx", "type": "quantitative", "axis": null}, "y": {"field": "y", "type": "quantitative", "axis": null}}},
  {"data": {"name": "br"}, "transform": [{"filter": "datum.p=='PWV'"}],
   "mark": {"type": "text", "fontSize": 13, "align": "left", "baseline": "alphabetic", "dx": 7, "dy": -5, "color": "#262626"},
   "encoding": {"x": {"field": "tx", "type": "quantitative", "axis": null}, "y": {"field": "y", "type": "quantitative", "axis": null}, "text": {"field": "val"}}}
 ]},
{"width": 301, "height": 216,
 "resolve": {"axis": {"x": "independent", "y": "independent"}},
 "layer": [
  {"data": {"name": "fmd"},
   "transform": [
    {"calculate": "floor(datum.v/0.8)", "as": "b"},
    {"window": [{"op": "row_number", "as": "rn"}], "groupby": ["g", "b"], "sort": [{"field": "v", "order": "ascending"}]},
    {"calculate": "indexof(['HIV-','Naive','EFV','NVP','LPV/r'], datum.g) + 1 + (datum.rn % 2 == 0 ? 1 : -1) * floor(datum.rn/2) * 0.072", "as": "xp"}
   ],
   "mark": {"type": "circle", "color": "black", "opacity": 1, "size": 14},
   "encoding": {
    "x": {"field": "xp", "type": "quantitative", "scale": {"domain": [0.6, 5.4], "nice": false, "zero": false},
          "axis": {"values": [1,2,3,4,5], "labelExpr": "['HIV-','Naive','EFV','NVP','LPV/r'][datum.value-1]", "title": null}},
    "y": {"field": "v", "type": "quantitative", "scale": {"domain": [-3, 29], "nice": false, "zero": false},
          "axis": {"values": [0,5,10,15,20,25], "title": "Flow-Mediated Dilation (%)"}}
   }},
  {"data": {"name": "med"},
   "transform": [{"filter": "datum.p=='FMD'"},
    {"calculate": "indexof(['HIV-','Naive','EFV','NVP','LPV/r'], datum.g) + 1", "as": "c"},
    {"calculate": "datum.g=='EFV' ? 0.48 : datum.g=='NVP' ? 0.37 : 0.27", "as": "hw"},
    {"calculate": "datum.c - datum.hw", "as": "xa"}, {"calculate": "datum.c + datum.hw", "as": "xb"}],
   "mark": {"type": "rule", "color": "black", "strokeWidth": 1.5},
   "encoding": {
    "x": {"field": "xa", "type": "quantitative", "axis": {"orient": "top", "values": [1,2,3,4,5], "labels": false, "domain": false, "title": null}},
    "x2": {"field": "xb"},
    "y": {"field": "v", "type": "quantitative", "axis": {"orient": "right", "values": [0,5,10,15,20,25], "labels": false, "domain": false, "title": null}}
   }},
  {"data": {"name": "br"}, "transform": [{"filter": "datum.p=='FMD'"}],
   "mark": {"type": "rule", "color": "#8c8c8c", "strokeWidth": 1.5},
   "encoding": {"x": {"field": "x1", "type": "quantitative", "axis": null}, "x2": {"field": "x2"}, "y": {"field": "y", "type": "quantitative", "axis": null}}},
  {"data": {"name": "br"}, "transform": [{"filter": "datum.p=='FMD'"}],
   "mark": {"type": "text", "text": "p", "fontStyle": "italic", "fontSize": 13, "align": "left", "baseline": "alphabetic", "dy": -5, "color": "#262626"},
   "encoding": {"x": {"field": "tx", "type": "quantitative", "axis": null}, "y": {"field": "y", "type": "quantitative", "axis": null}}},
  {"data": {"name": "br"}, "transform": [{"filter": "datum.p=='FMD'"}],
   "mark": {"type": "text", "fontSize": 13, "align": "left", "baseline": "alphabetic", "dx": 7, "dy": -5, "color": "#262626"},
   "encoding": {"x": {"field": "tx", "type": "quantitative", "axis": null}, "y": {"field": "y", "type": "quantitative", "axis": null}, "text": {"field": "val"}}}
 ]},
{"width": 301, "height": 218,
 "resolve": {"axis": {"x": "independent", "y": "independent"}},
 "layer": [
  {"data": {"name": "imt"},
   "transform": [
    {"calculate": "floor(datum.v/0.014)", "as": "b"},
    {"window": [{"op": "row_number", "as": "rn"}], "groupby": ["g", "b"], "sort": [{"field": "v", "order": "ascending"}]},
    {"calculate": "indexof(['HIV-','Naive','EFV','NVP','LPV/r'], datum.g) + 1 + (datum.rn % 2 == 0 ? 1 : -1) * floor(datum.rn/2) * 0.072", "as": "xp"}
   ],
   "mark": {"type": "circle", "color": "black", "opacity": 1, "size": 14},
   "encoding": {
    "x": {"field": "xp", "type": "quantitative", "scale": {"domain": [0.6, 5.4], "nice": false, "zero": false},
          "axis": {"values": [1,2,3,4,5], "labelExpr": "['HIV-','Naive','EFV','NVP','LPV/r'][datum.value-1]", "title": null}},
    "y": {"field": "v", "type": "quantitative", "scale": {"domain": [0.3, 0.85], "nice": false, "zero": false},
          "axis": {"values": [0.3,0.4,0.5,0.6,0.7,0.8], "format": ".1f", "title": "Carotid IMT (mm)"}}
   }},
  {"data": {"name": "med"},
   "transform": [{"filter": "datum.p=='IMT'"},
    {"calculate": "indexof(['HIV-','Naive','EFV','NVP','LPV/r'], datum.g) + 1", "as": "c"},
    {"calculate": "datum.g=='EFV' ? 0.33 : datum.g=='NVP' ? 0.43 : datum.g=='Naive' ? 0.3 : 0.26", "as": "hw"},
    {"calculate": "datum.c - datum.hw", "as": "xa"}, {"calculate": "datum.c + datum.hw", "as": "xb"}],
   "mark": {"type": "rule", "color": "black", "strokeWidth": 1.5},
   "encoding": {
    "x": {"field": "xa", "type": "quantitative", "axis": {"orient": "top", "values": [1,2,3,4,5], "labels": false, "domain": false, "title": null}},
    "x2": {"field": "xb"},
    "y": {"field": "v", "type": "quantitative", "axis": {"orient": "right", "values": [0.3,0.4,0.5,0.6,0.7,0.8], "labels": false, "domain": false, "title": null}}
   }},
  {"data": {"name": "br"}, "transform": [{"filter": "datum.p=='IMT'"}],
   "mark": {"type": "rule", "color": "#8c8c8c", "strokeWidth": 1.5},
   "encoding": {"x": {"field": "x1", "type": "quantitative", "axis": null}, "x2": {"field": "x2"}, "y": {"field": "y", "type": "quantitative", "axis": null}}},
  {"data": {"name": "br"}, "transform": [{"filter": "datum.p=='IMT'"}],
   "mark": {"type": "text", "text": "p", "fontStyle": "italic", "fontSize": 13, "align": "left", "baseline": "alphabetic", "dy": -5, "color": "#262626"},
   "encoding": {"x": {"field": "tx", "type": "quantitative", "axis": null}, "y": {"field": "y", "type": "quantitative", "axis": null}}},
  {"data": {"name": "br"}, "transform": [{"filter": "datum.p=='IMT'"}],
   "mark": {"type": "text", "fontSize": 13, "align": "left", "baseline": "alphabetic", "dx": 7, "dy": -5, "color": "#262626"},
   "encoding": {"x": {"field": "tx", "type": "quantitative", "axis": null}, "y": {"field": "y", "type": "quantitative", "axis": null}, "text": {"field": "val"}}},
  {"data": {"name": "br"}, "transform": [{"filter": "datum.p=='IMT'"}],
   "mark": {"type": "text", "fontSize": 8, "align": "left", "baseline": "alphabetic", "dx": 47.6, "dy": -11, "color": "#262626"},
   "encoding": {"x": {"field": "tx", "type": "quantitative", "axis": null}, "y": {"field": "y", "type": "quantitative", "axis": null}, "text": {"field": "sup"}}}
 ]},
{"width": 301, "height": 218,
 "resolve": {"axis": {"x": "independent", "y": "independent"}},
 "layer": [
  {"data": {"name": "nimt"},
   "transform": [
    {"calculate": "floor(datum.v/0.63)", "as": "b"},
    {"window": [{"op": "row_number", "as": "rn"}], "groupby": ["g", "b"], "sort": [{"field": "v", "order": "ascending"}]},
    {"calculate": "indexof(['HIV-','Naive','EFV','NVP','LPV/r'], datum.g) + 1 + (datum.rn % 2 == 0 ? 1 : -1) * floor(datum.rn/2) * 0.072", "as": "xp"}
   ],
   "mark": {"type": "circle", "color": "black", "opacity": 1, "size": 14},
   "encoding": {
    "x": {"field": "xp", "type": "quantitative", "scale": {"domain": [0.6, 5.4], "nice": false, "zero": false},
          "axis": {"values": [1,2,3,4,5], "labelExpr": "['HIV-','Naive','EFV','NVP','LPV/r'][datum.value-1]", "title": null}},
    "y": {"field": "v", "type": "quantitative", "scale": {"domain": [10, 35], "nice": false, "zero": false},
          "axis": {"values": [10,15,20,25,30], "title": "Normalized Carotid IMT (% of D/2)"}}
   }},
  {"data": {"name": "med"},
   "transform": [{"filter": "datum.p=='NIMT'"},
    {"calculate": "indexof(['HIV-','Naive','EFV','NVP','LPV/r'], datum.g) + 1", "as": "c"},
    {"calculate": "datum.g=='EFV' ? 0.37 : datum.g=='NVP' ? 0.4 : 0.26", "as": "hw"},
    {"calculate": "datum.c - datum.hw", "as": "xa"}, {"calculate": "datum.c + datum.hw", "as": "xb"}],
   "mark": {"type": "rule", "color": "black", "strokeWidth": 1.5},
   "encoding": {
    "x": {"field": "xa", "type": "quantitative", "axis": {"orient": "top", "values": [1,2,3,4,5], "labels": false, "domain": false, "title": null}},
    "x2": {"field": "xb"},
    "y": {"field": "v", "type": "quantitative", "axis": {"orient": "right", "values": [10,15,20,25,30], "labels": false, "domain": false, "title": null}}
   }},
  {"data": {"name": "br"}, "transform": [{"filter": "datum.p=='NIMT'"}],
   "mark": {"type": "rule", "color": "#8c8c8c", "strokeWidth": 1.5},
   "encoding": {"x": {"field": "x1", "type": "quantitative", "axis": null}, "x2": {"field": "x2"}, "y": {"field": "y", "type": "quantitative", "axis": null}}},
  {"data": {"name": "br"}, "transform": [{"filter": "datum.p=='NIMT'"}],
   "mark": {"type": "text", "text": "p", "fontStyle": "italic", "fontSize": 13, "align": "left", "baseline": "alphabetic", "dy": -5, "color": "#262626"},
   "encoding": {"x": {"field": "tx", "type": "quantitative", "axis": null}, "y": {"field": "y", "type": "quantitative", "axis": null}}},
  {"data": {"name": "br"}, "transform": [{"filter": "datum.p=='NIMT'"}],
   "mark": {"type": "text", "fontSize": 13, "align": "left", "baseline": "alphabetic", "dx": 7, "dy": -5, "color": "#262626"},
   "encoding": {"x": {"field": "tx", "type": "quantitative", "axis": null}, "y": {"field": "y", "type": "quantitative", "axis": null}, "text": {"field": "val"}}}
 ]}
],
"config": {
 "font": "Liberation Sans",
 "view": {"stroke": "#262626", "strokeWidth": 1},
 "axis": {"grid": false, "domainColor": "#262626", "tickColor": "#262626", "labelColor": "#262626", "titleColor": "#262626",
          "labelFont": "Liberation Sans", "titleFont": "Liberation Sans", "labelFontSize": 12, "titleFontSize": 15, "titleFontWeight": "normal",
          "tickSize": -3, "labelFlush": false, "labelOverlap": false, "titlePadding": 2},
 "axisX": {"labelPadding": 6},
 "axisY": {"labelPadding": 4.5}
}
}
